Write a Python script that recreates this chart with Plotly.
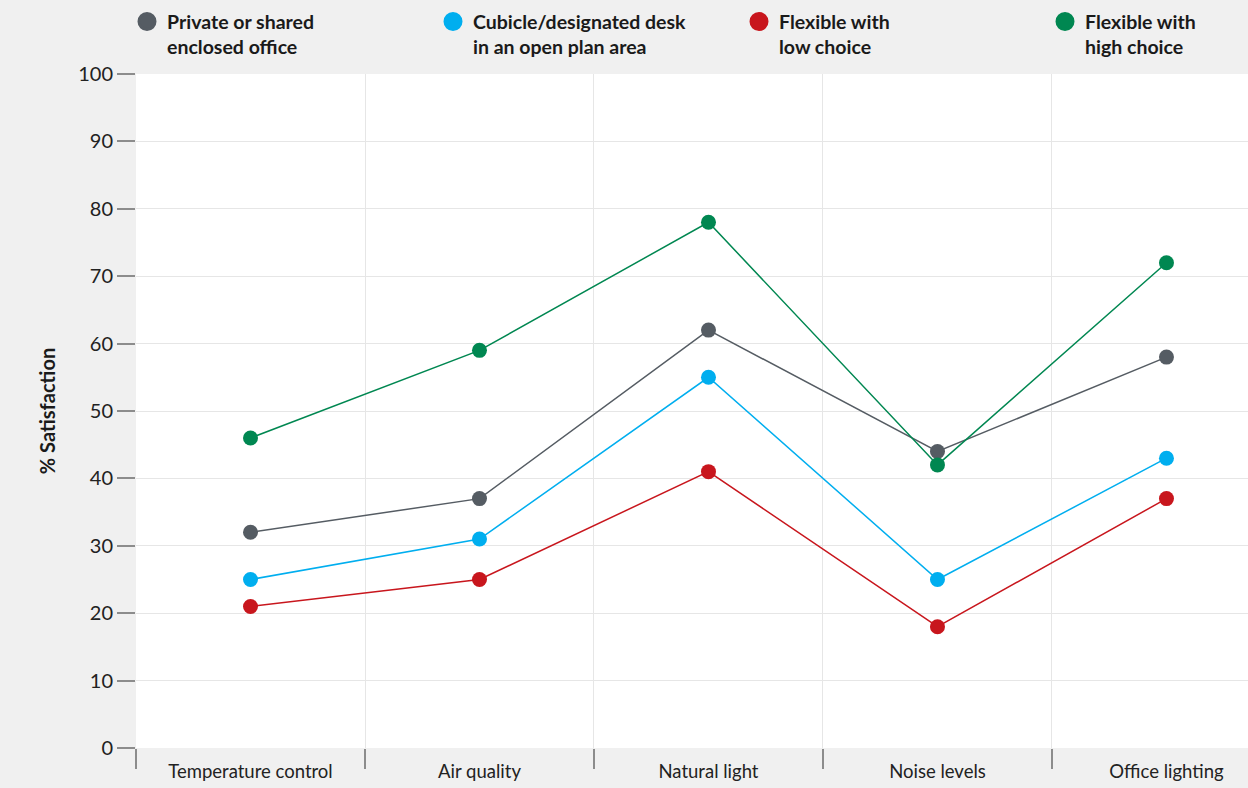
import plotly.graph_objects as go

categories = ["Temperature control", "Air quality", "Natural light", "Noise levels", "Office lighting"]
series_names = [
    "Private or shared<br>enclosed office",
    "Cubicle/designated desk<br>in an open plan area",
    "Flexible with<br>low choice",
    "Flexible with<br>high choice",
]
private_office = [32, 37, 62, 44, 58]
cubicle_desk = [25, 31, 55, 25, 43]
flexible_low = [21, 25, 41, 18, 37]
flexible_high = [46, 59, 78, 42, 72]
y_ticks = [0, 10, 20, 30, 40, 50, 60, 70, 80, 90, 100]

colors = ["#555c63", "#00aeef", "#c8161d", "#008751"]
series = [private_office, cubicle_desk, flexible_low, flexible_high]
legend_ids = ["legend", "legend2", "legend3", "legend4"]

FONT = "Lato"
fig = go.Figure()
for name, vals, col in zip(series_names, series, colors):
    fig.add_trace(go.Scatter(
        x=categories, y=vals, mode="lines+markers", name=name,
        line=dict(color=col, width=1.5),
        marker=dict(color=col, size=15),
        showlegend=False, cliponaxis=False,
    ))
for name, col, lid in zip(series_names, colors, legend_ids):
    fig.add_trace(go.Scatter(
        x=[None], y=[None], mode="markers", name=name, legend=lid,
        marker=dict(color=col, size=16, line=dict(color=col, width=3)),
        showlegend=True,
    ))

legend_style = dict(
    orientation="h", xref="container", yref="container",
    y=0.997, xanchor="left", yanchor="top", valign="top",
    font=dict(family=FONT, size=19.5, color="#1a1a1a", weight="bold"),
    bgcolor="rgba(0,0,0,0)", itemsizing="trace",
)
legend_x = [127, 433, 739, 1045]

layout_legends = {lid: dict(legend_style, x=lx / 1248) for lid, lx in zip(legend_ids, legend_x)}

fig.update_layout(
    width=1248, height=788,
    margin=dict(l=136, r=0, t=74, b=40, autoexpand=False),
    paper_bgcolor="#f0f0f0", plot_bgcolor="#ffffff",
    font=dict(family=FONT, color="#222222"),
    xaxis=dict(
        type="category", range=[-0.5, 4.356],
        tickson="boundaries", ticks="outside", ticklen=20, tickwidth=1.5,
        tickcolor="#8c8c8c", showgrid=True, gridcolor="#e6e6e6", gridwidth=1,
        showline=False, zeroline=False, ticklabelstandoff=10,
        tickfont=dict(family=FONT, size=18.5, color="#222222"),
    ),
    yaxis=dict(
        range=[0, 100], tickvals=y_ticks, ticks="outside", ticklen=18, tickwidth=1.5,
        tickcolor="#8c8c8c", showgrid=True, gridcolor="#e6e6e6", gridwidth=1,
        zeroline=False, showline=False,
        tickfont=dict(family=FONT, size=20, color="#222222"),
        title=dict(text="% Satisfaction", standoff=17,
                   font=dict(family=FONT, size=20, color="#1a1a1a", weight="bold")),
    ),
    **layout_legends,
)
fig.write_html("out.html")
